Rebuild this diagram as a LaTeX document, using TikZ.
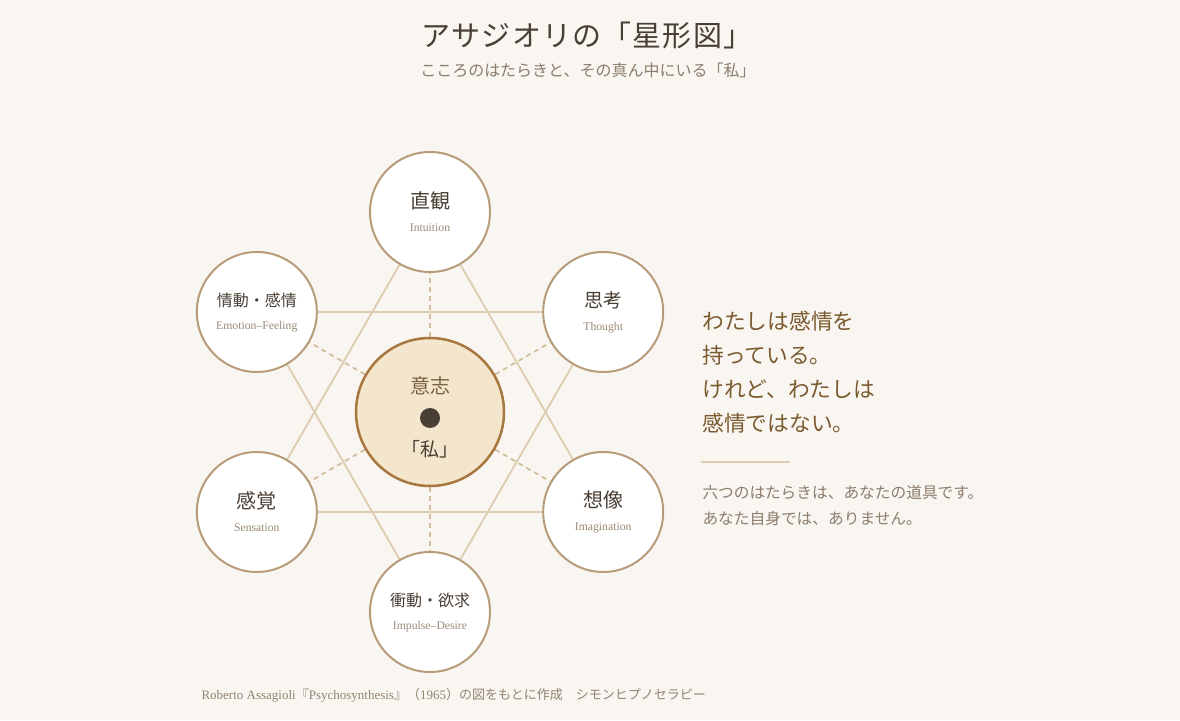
\documentclass[tikz,border=0pt]{standalone}
\usepackage{fontspec}
\setmainfont{Liberation Serif}
\newfontfamily\jp{Noto Sans CJK JP}
\newfontfamily\jpwide[LetterSpace=4]{Noto Sans CJK JP}
\usetikzlibrary{backgrounds}
\definecolor{paper}{HTML}{F9F6F1}
\definecolor{ink}{HTML}{4A3F35}
\definecolor{subink}{HTML}{8C7D6E}
\definecolor{engink}{HTML}{9A8A78}
\definecolor{goldink}{HTML}{7A5A2E}
\definecolor{willink}{HTML}{7B6242}
\definecolor{tanline}{HTML}{DDCCB2}
\definecolor{dashline}{HTML}{D2BB9A}
\definecolor{rim}{HTML}{B89B78}
\definecolor{willfill}{HTML}{F3E6CC}
\definecolor{willrim}{HTML}{A8773F}
\newcommand\fsz[2]{\fontsize{#1}{#2}\selectfont}

\begin{document}
\begin{tikzpicture}[x=1pt,y=1pt,
        func/.style={circle,draw=rim,line width=2pt,fill=white,minimum size=120pt,
            inner sep=0pt,align=center,text=engink,font=\fsz{11.7}{23}},
        will/.style={circle,draw=willrim,line width=2.5pt,fill=willfill,minimum size=148pt,inner sep=0pt},
        tri/.style={draw=tanline,line width=1.8pt},
        link/.style={draw=dashline,line width=1.7pt,dash pattern=on 5pt off 4pt}]

    \begin{scope}[on background layer]
        \fill[paper] (0,0) rectangle (1180,720);
    \end{scope}
    \useasboundingbox (0,0) rectangle (1180,720);

    \node[text=ink,font=\jpwide\fsz{29}{34}] (title) at (587,685) {アサジオリの「星形図」};
    \node[text=subink,font=\jp\fsz{16}{20}] (subtitle) at (588,650) {こころのはたらきと、その真ん中にいる「私」};

    \node[will] (self) at (430,308) {};
    \node[text=willink,font=\jp\fsz{20}{24}] (willtxt) at (430,334) {意志};
    \node[circle,fill=ink,minimum size=20pt,inner sep=0pt] (dot) at (430,302) {};
    \node[text=ink,font=\jp\fsz{19}{24}] (watashi) at (430,271) {「私」};

    \node[func] (int) at (430,508) {{\jp\color{ink}\fsz{20}{23}直観}\\Intuition};
    \node[func] (tho) at (603.2,408) {{\jp\color{ink}\fsz{19}{23}思考}\\Thought};
    \node[func] (ima) at (603.2,208) {{\jp\color{ink}\fsz{20}{23}想像}\\Imagination};
    \node[func,text depth=2pt] (imp) at (430,108) {{\jp\color{ink}\fsz{16}{23}衝動・欲求}\\Impulse--Desire};
    \node[func] (sen) at (256.8,208) {{\jp\color{ink}\fsz{20}{23}感覚}\\Sensation};
    \node[func] (emo) at (256.8,408) {{\jp\color{ink}\fsz{16}{23}情動・感情}\\Emotion--Feeling};

    \begin{scope}[on background layer]
        \path (int.center) edge[tri] (sen.center)
            (sen.center) edge[tri] (ima.center)
            (ima.center) edge[tri] (int.center)
            (imp.center) edge[tri] (emo.center)
            (emo.center) edge[tri] (tho.center)
            (tho.center) edge[tri] (imp.center);
        \foreach \f in {int,tho,ima,imp,sen,emo}
            \path (self) edge[link] (\f);
    \end{scope}

    \node[anchor=west,align=left,text=goldink,font=\jp\fsz{21.7}{34}] (claim) at (699,348)
        {わたしは感情を\\持っている。\\けれど、わたしは\\感情ではない。};
    \coordinate (ruleL) at (701,258);
    \coordinate (ruleR) at (790,258);
    \draw[tanline,line width=2pt] (ruleL) -- (ruleR);
    \node[anchor=west,align=left,text=subink,font=\jp\fsz{15.7}{26}] (note) at (699,214)
        {六つのはたらきは、あなたの道具です。\\あなた自身では、ありません。};

    \node[anchor=west,text=engink!90!ink,font=\fsz{13}{16}] (source) at (198,25)
        {Roberto Assagioli{\jp『}Psychosynthesis{\jp』（}1965{\jp）の図をもとに作成　シモンヒプノセラピー}};

\end{tikzpicture}
\end{document}
